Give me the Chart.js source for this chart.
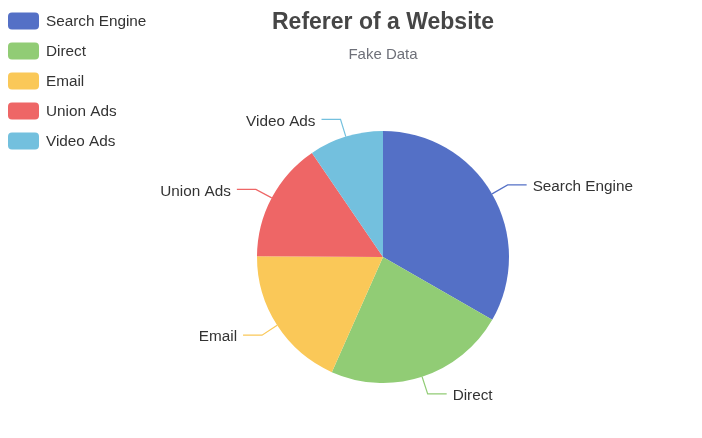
<!DOCTYPE html>
<html>
<head>
<meta charset="utf-8">
<script src="https://cdn.jsdelivr.net/npm/chart.js@4"></script>
<style>
  html, body { margin: 0; padding: 0; background: #ffffff; }
  #wrap { width: 702px; height: 438px; position: relative; }
</style>
</head>
<body>
<div id="wrap"><canvas id="c" width="702" height="438"></canvas></div>
<script>
const titleText = 'Referer of a Website';
const subtitleText = 'Fake Data';
const categories = ['Search Engine', 'Direct', 'Email', 'Union Ads', 'Video Ads'];
const values = [1048, 735, 580, 484, 300];
const colors = ['#5470c6', '#91cc75', '#fac858', '#ee6666', '#73c0de'];

const FONT = '"Liberation Sans", Helvetica, Arial, sans-serif';

const decorPlugin = {
  id: 'decor',
  afterDraw(chart) {
    const ctx = chart.ctx;
    ctx.save();
    // Title
    ctx.textAlign = 'center';
    ctx.textBaseline = 'middle';
    ctx.fillStyle = '#464646';
    ctx.font = 'bold 23px ' + FONT;
    ctx.fillText(titleText, 383, 23);
    ctx.fillStyle = '#6e7079';
    ctx.font = '15px ' + FONT;
    ctx.fillText(subtitleText, 383, 55);

    // Legend
    const labels = chart.data.labels;
    const bg = chart.data.datasets[0].backgroundColor;
    ctx.font = '15.3px ' + FONT;
    ctx.textAlign = 'left';
    labels.forEach((lab, i) => {
      const cy = 21 + i * 30;
      ctx.fillStyle = bg[i];
      ctx.beginPath();
      if (ctx.roundRect) ctx.roundRect(8, cy - 8.5, 31, 17, 4);
      else ctx.rect(8, cy - 8.5, 31, 17);
      ctx.fill();
      ctx.fillStyle = '#333333';
      ctx.fillText(lab, 46, cy + 1);
    });

    // Outside labels with leader lines
    const meta = chart.getDatasetMeta(0);
    const L1 = 18, L2 = 19, GAP = 6;
    meta.data.forEach((arc, i) => {
      const p = arc.getProps(['startAngle', 'endAngle', 'outerRadius', 'x', 'y'], true);
      const a = (p.startAngle + p.endAngle) / 2;
      const r = p.outerRadius;
      const x0 = p.x + r * Math.cos(a), y0 = p.y + r * Math.sin(a);
      const x1 = p.x + (r + L1) * Math.cos(a), y1 = p.y + (r + L1) * Math.sin(a);
      const dir = Math.cos(a) >= 0 ? 1 : -1;
      const x2 = x1 + dir * L2;
      ctx.strokeStyle = bg[i];
      ctx.lineWidth = 1.2;
      ctx.beginPath();
      ctx.moveTo(x0, y0);
      ctx.lineTo(x1, y1);
      ctx.lineTo(x2, y1);
      ctx.stroke();
      ctx.fillStyle = '#333333';
      ctx.textAlign = dir > 0 ? 'left' : 'right';
      ctx.textBaseline = 'middle';
      ctx.fillText(labels[i], x2 + dir * GAP, y1 + 2);
    });
    ctx.restore();
  }
};

new Chart(document.getElementById('c'), {
  type: 'pie',
  data: {
    labels: categories,
    datasets: [{
      data: values,
      backgroundColor: colors,
      borderWidth: 0,
      hoverOffset: 0
    }]
  },
  options: {
    responsive: false,
    animation: false,
    layout: { padding: { top: 131, bottom: 55, left: 257, right: 193 } },
    plugins: {
      legend: { display: false },
      title: { display: false },
      tooltip: { enabled: false }
    }
  },
  plugins: [decorPlugin]
});
</script>
</body>
</html>
